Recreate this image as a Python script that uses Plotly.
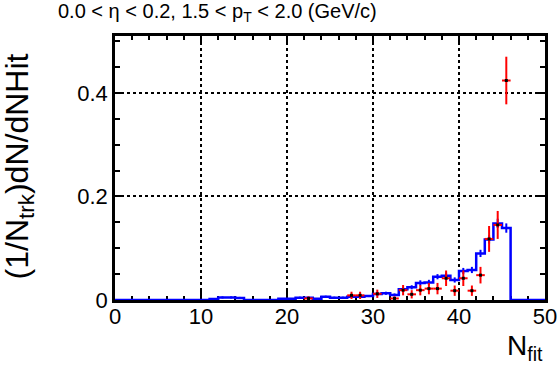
import plotly.graph_objects as go

# ---- data ----
bin_edges = list(range(0, 51))
blue_vals = [0.0, 0.0, 0.0, 0.0, 0.0, 0.0, 0.0, 0.0, 0.0, 0.0,
             0.0, 0.002, 0.005, 0.005, 0.004, 0.0, 0.0, 0.0, 0.0, 0.0026,
             0.0026, 0.0045, 0.0045, 0.0026, 0.0064, 0.0045, 0.0045, 0.0064, 0.0064, 0.0077,
             0.0116, 0.013, 0.0097, 0.0206, 0.0245, 0.033, 0.034, 0.045, 0.047, 0.0387,
             0.056, 0.058, 0.090, 0.117, 0.148, 0.139, 0.0, 0.0, 0.0, 0.0]
blue_errs = [0.0, 0.0, 0.0, 0.0, 0.0, 0.0, 0.0, 0.0, 0.0, 0.0,
             0.0, 0.001, 0.002, 0.002, 0.002, 0.0, 0.0, 0.0, 0.0, 0.001,
             0.001, 0.002, 0.002, 0.001, 0.002, 0.002, 0.002, 0.002, 0.002, 0.002,
             0.003, 0.003, 0.003, 0.004, 0.004, 0.005, 0.005, 0.005, 0.006, 0.005,
             0.006, 0.006, 0.007, 0.008, 0.009, 0.009, 0.0, 0.0, 0.0, 0.0]

red_x = [22.5, 27.5, 28.5, 30.5, 32.5, 33.5, 34.5, 35.5, 36.5, 37.5,
         38.5, 39.5, 40.5, 41.5, 42.5, 43.5, 44.5, 45.5]
red_y = [0.003, 0.009, 0.009, 0.012, 0.003, 0.019, 0.011, 0.019, 0.022, 0.022,
         0.042, 0.018, 0.042, 0.018, 0.048, 0.118, 0.145, 0.424]
red_err = [0.004, 0.007, 0.007, 0.008, 0.004, 0.010, 0.008, 0.010, 0.011, 0.011,
           0.015, 0.010, 0.015, 0.010, 0.016, 0.025, 0.027, 0.046]
red_xerr = [0.5] * len(red_x)

x_ticks = [0, 10, 20, 30, 40, 50]
y_ticks = [0, 0.2, 0.4]
y_tick_text = ["0", "0.2", "0.4"]

# ---- figure ----
FONT = "Liberation Sans, Arial, Helvetica, sans-serif"
fig = go.Figure()

step_x = bin_edges
step_y = blue_vals + [blue_vals[-1]]
fig.add_trace(go.Scatter(x=step_x, y=step_y, mode="lines", line_shape="hv",
                         line=dict(color="#0000ff", width=2.5), hoverinfo="skip",
                         showlegend=False))
centers = [e + 0.5 for e in bin_edges[:-1]]
fig.add_trace(go.Scatter(x=centers, y=blue_vals, mode="markers",
                         marker=dict(size=1, color="#0000ff"),
                         error_y=dict(type="data", array=blue_errs, color="#0000ff",
                                      thickness=2, width=0),
                         showlegend=False))
fig.add_trace(go.Scatter(x=red_x, y=red_y, mode="markers",
                         marker=dict(symbol="square", size=3, color="black"),
                         error_y=dict(type="data", array=red_err, color="#ff0000",
                                      thickness=2, width=0),
                         error_x=dict(type="data", array=red_xerr, color="#ff0000",
                                      thickness=2, width=0),
                         showlegend=False))

axis_common = dict(showline=True, linecolor="black", linewidth=2.5, mirror="ticks",
                   ticks="inside", tickcolor="black", tickwidth=2, ticklen=9,
                   showgrid=True, gridcolor="black", gridwidth=2, griddash="3px,3px",
                   zeroline=False, layer="below traces", automargin=False,
                   tickfont=dict(family=FONT, size=22, color="black"))

fig.update_xaxes(range=[0, 50], tickvals=x_ticks, ticklabelstandoff=-5,
                 minor=dict(dtick=2, ticks="inside", ticklen=4, tickwidth=2,
                            tickcolor="black", showgrid=False),
                 **axis_common)
fig.update_yaxes(range=[0, 0.51], tickvals=y_ticks, ticktext=y_tick_text,
                 minor=dict(dtick=0.05, ticks="inside", ticklen=5, tickwidth=2,
                            tickcolor="black", showgrid=False),
                 **axis_common)

fig.add_annotation(text="0.0 < η < 0.2, 1.5 < p<sub>T</sub> < 2.0 (GeV/c)",
                   xref="paper", yref="paper", x=-0.138, y=1.09,
                   xanchor="left", yanchor="middle", showarrow=False,
                   font=dict(family=FONT, size=20, color="black"))
fig.add_annotation(text="(1/N<sub>trk</sub>)dN/dNHit",
                   xref="paper", yref="paper", x=-0.222, y=0.94,
                   xanchor="center", yanchor="top", textangle=-90, showarrow=False,
                   font=dict(family=FONT, size=32, color="black"))
fig.add_annotation(text="N<sub>fit</sub>",
                   xref="paper", yref="paper", x=1.0, y=-0.18,
                   xanchor="right", yanchor="middle", showarrow=False,
                   font=dict(family=FONT, size=28, color="black"))

fig.update_layout(width=558, height=367, margin=dict(l=115, r=13, t=36, b=67),
                  paper_bgcolor="white", plot_bgcolor="white")

fig.write_html("out.html", config={"displayModeBar": False},
               post_script="document.body.style.margin='0';document.body.style.overflow='hidden';")
